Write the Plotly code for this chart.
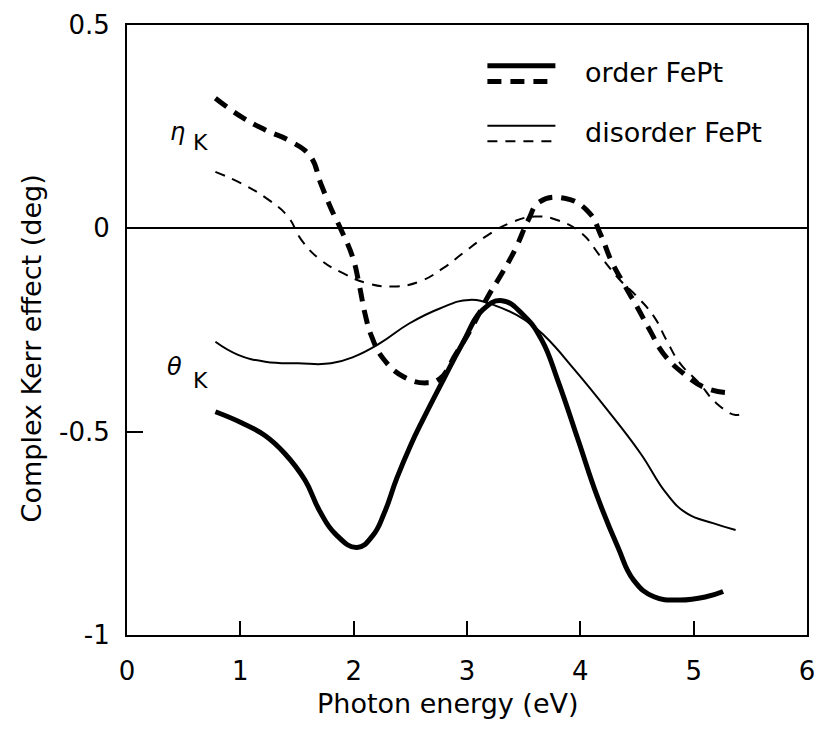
import plotly.graph_objects as go

# ---------------- data ----------------
order_theta_x = [0.78, 1.01, 1.22, 1.39, 1.57, 1.70, 1.84, 2.03, 2.17, 2.27, 2.38, 2.50, 2.61, 2.79,
                 2.96, 3.14, 3.31, 3.51, 3.66, 3.80, 3.98, 4.15, 4.33, 4.47, 4.65, 4.88, 5.11, 5.26]
order_theta_y = [-0.451, -0.478, -0.51, -0.553, -0.619, -0.695, -0.752, -0.785, -0.755, -0.70,
                 -0.615, -0.535, -0.471, -0.373, -0.283, -0.2, -0.178, -0.217, -0.275, -0.373,
                 -0.52, -0.66, -0.783, -0.865, -0.906, -0.914, -0.906, -0.893]

order_eta_x = [0.78, 1.01, 1.22, 1.45, 1.62, 1.71, 1.80, 1.89, 1.99, 2.05, 2.10, 2.16, 2.26, 2.44,
               2.64, 2.76, 2.90, 3.05, 3.18, 3.31, 3.43, 3.54, 3.64, 3.86, 4.07, 4.18, 4.27, 4.38,
               4.50, 4.62, 4.73, 4.91, 5.11, 5.29]
order_eta_y = [0.32, 0.274, 0.242, 0.213, 0.176, 0.11, 0.049, -0.004, -0.07, -0.14, -0.21, -0.267,
               -0.32, -0.365, -0.38, -0.37, -0.31, -0.24, -0.17, -0.11, -0.049, 0.02, 0.065, 0.074,
               0.041, -0.016, -0.078, -0.135, -0.193, -0.254, -0.307, -0.357, -0.393, -0.404]

disorder_theta_x = [0.78, 0.98, 1.22, 1.51, 1.80, 2.00, 2.23, 2.49, 2.76, 3.02, 3.25, 3.51, 3.69,
                    3.95, 4.24, 4.53, 4.76, 4.94, 5.17, 5.37]
disorder_theta_y = [-0.279, -0.311, -0.328, -0.332, -0.332, -0.316, -0.283, -0.234, -0.197, -0.176,
                    -0.19, -0.225, -0.266, -0.348, -0.447, -0.553, -0.652, -0.701, -0.725, -0.742]

disorder_eta_x = [0.78, 1.04, 1.25, 1.42, 1.54, 1.71, 1.91, 2.12, 2.35, 2.58, 2.79, 2.96, 3.16, 3.37,
                  3.60, 3.80, 4.01, 4.18, 4.35, 4.50, 4.65, 4.76, 4.88, 5.05, 5.20, 5.37, 5.42]
disorder_eta_y = [0.139, 0.106, 0.07, 0.029, -0.029, -0.078, -0.111, -0.135, -0.143, -0.131, -0.098,
                  -0.062, -0.021, 0.012, 0.029, 0.02, -0.012, -0.07, -0.127, -0.168, -0.217, -0.275,
                  -0.332, -0.381, -0.43, -0.459, -0.455]

x_ticks = [0, 1, 2, 3, 4, 5, 6]
y_ticks = [-1, -0.5, 0, 0.5]
y_tick_labels = ["-1", "-0.5", "0", "0.5"]
legend_labels = ["order FePt", "disorder FePt"]

FONT = "DejaVu Sans"

# ---------------- figure ----------------
fig = go.Figure()

series = [
    (order_theta_x, order_theta_y, 5, "solid"),
    (order_eta_x, order_eta_y, 5, "14px,9px"),
    (disorder_theta_x, disorder_theta_y, 2, "solid"),
    (disorder_eta_x, disorder_eta_y, 2, "10px,8px"),
]
for xs, ys, w, d in series:
    fig.add_trace(go.Scatter(x=xs, y=ys, mode="lines",
                             line=dict(color="black", width=w, dash=d, shape="spline", smoothing=1.3),
                             showlegend=False, hoverinfo="skip"))

# custom legend (two line samples per entry)
leg_x0, leg_x1 = 3.18, 3.78
legend_lines = [
    (0.400, 5, "solid"),
    (0.361, 5, "14px,9px"),
    (0.252, 2, "solid"),
    (0.214, 2, "10px,8px"),
]
for y, w, d in legend_lines:
    fig.add_trace(go.Scatter(x=[leg_x0, leg_x1], y=[y, y], mode="lines",
                             line=dict(color="black", width=w, dash=d),
                             showlegend=False, hoverinfo="skip"))

annotations = [
    dict(x=4.02, y=0.383, text=legend_labels[0], xanchor="left", yanchor="middle",
         showarrow=False, font=dict(family=FONT, size=27, color="black")),
    dict(x=4.02, y=0.235, text=legend_labels[1], xanchor="left", yanchor="middle",
         showarrow=False, font=dict(family=FONT, size=27, color="black")),
    # eta_K label
    dict(x=0.445, y=0.236, text="<i>η</i>", xanchor="center", yanchor="middle",
         showarrow=False, font=dict(family=FONT, size=24, color="black")),
    dict(x=0.645, y=0.212, text="K", xanchor="center", yanchor="middle",
         showarrow=False, font=dict(family=FONT, size=22, color="black")),
    # theta_K label
    dict(x=0.418, y=-0.341, text="<i>θ</i>", xanchor="center", yanchor="middle",
         showarrow=False, font=dict(family=FONT, size=24, color="black")),
    dict(x=0.645, y=-0.375, text="K", xanchor="center", yanchor="middle",
         showarrow=False, font=dict(family=FONT, size=22, color="black")),
    # axis titles
    dict(x=0.4724, y=-0.112, xref="paper", yref="paper", text="Photon energy (eV)",
         xanchor="center", yanchor="middle", showarrow=False,
         font=dict(family=FONT, size=27, color="black")),
    dict(x=-0.141, y=0.47, xref="paper", yref="paper", text="Complex Kerr effect (deg)",
         xanchor="center", yanchor="middle", textangle=-90, showarrow=False,
         font=dict(family=FONT, size=27, color="black")),
]

fig.update_layout(
    width=824, height=737,
    margin=dict(l=127, r=9, t=25, b=102),
    paper_bgcolor="white", plot_bgcolor="white",
    annotations=annotations,
    showlegend=False,
)
fig.update_xaxes(range=[0, 6], tickvals=x_ticks, ticktext=[str(v) for v in x_ticks],
                 ticks="inside", ticklen=14, tickwidth=2, tickcolor="black",
                 showline=True, linecolor="black", linewidth=2, mirror=True,
                 showgrid=False, zeroline=False, ticklabelstandoff=12,
                 tickfont=dict(family=FONT, size=26, color="black"))
fig.update_yaxes(range=[-1, 0.5], tickvals=y_ticks, ticktext=y_tick_labels,
                 ticks="inside", ticklen=16, tickwidth=2, tickcolor="black",
                 showline=True, linecolor="black", linewidth=2, mirror=True,
                 showgrid=False, zeroline=True, zerolinecolor="black", zerolinewidth=2,
                 ticklabelstandoff=10,
                 tickfont=dict(family=FONT, size=26, color="black"))

fig.write_html("out.html")
